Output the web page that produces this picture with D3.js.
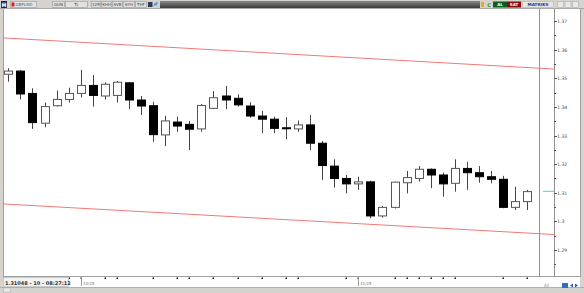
<!DOCTYPE html>
<html><head><meta charset="utf-8">
<script src="https://cdn.jsdelivr.net/npm/d3@7"></script>
<style>html,body{margin:0;padding:0;background:#fff;}svg{display:block;font-family:"DejaVu Sans",sans-serif;}</style>
</head><body><svg id="c" width="584" height="293"></svg>
<script>
// ---- data ----
const opens  = [1.3514,1.3525,1.3447,1.3343,1.3404,1.3426,1.3447,1.3475,1.3438,1.3440,1.3484,1.3424,1.3404,1.3302,1.3347,1.3339,1.3323,1.3395,1.3438,1.3430,1.3403,1.3368,1.3357,1.3327,1.3323,1.3337,1.3273,1.3193,1.3150,1.3131,1.3138,1.3019,1.3049,1.3135,1.3150,1.3182,1.3162,1.3133,1.3185,1.3170,1.3156,1.3147,1.3049,1.3069];
const highs  = [1.3535,1.3528,1.3465,1.3415,1.3457,1.3467,1.3529,1.3511,1.3486,1.3491,1.3487,1.3438,1.3418,1.3369,1.3366,1.3351,1.3410,1.3455,1.3473,1.3444,1.3416,1.3386,1.3366,1.3364,1.3352,1.3372,1.3281,1.3217,1.3162,1.3156,1.3142,1.3054,1.3139,1.3176,1.3193,1.3185,1.3170,1.3217,1.3208,1.3193,1.3176,1.3159,1.3121,1.3110];
const lows   = [1.3488,1.3426,1.3323,1.3329,1.3401,1.3415,1.3433,1.3401,1.3426,1.3415,1.3392,1.3372,1.3278,1.3263,1.3313,1.3249,1.3313,1.3392,1.3392,1.3401,1.3362,1.3308,1.3308,1.3287,1.3313,1.3249,1.3145,1.3118,1.3098,1.3110,1.3011,1.3013,1.3045,1.3098,1.3139,1.3116,1.3086,1.3104,1.3110,1.3135,1.3133,1.3046,1.3040,1.3040];
const closes = [1.3525,1.3445,1.3345,1.3401,1.3426,1.3447,1.3475,1.3440,1.3479,1.3486,1.3424,1.3403,1.3303,1.3351,1.3333,1.3322,1.3405,1.3432,1.3424,1.3407,1.3368,1.3357,1.3325,1.3324,1.3337,1.3273,1.3195,1.3150,1.3131,1.3138,1.3019,1.3049,1.3137,1.3153,1.3182,1.3162,1.3131,1.3185,1.3170,1.3156,1.3147,1.3049,1.3069,1.3104];
const channelUpper = [[-0.45,1.3641],[45.25,1.3532]];
const channelLower = [[-0.45,1.3061],[45.25,1.2954]];
const lastPrice = 1.31048;
const priceTicks = [1.37,1.36,1.35,1.34,1.33,1.32,1.31,1.30,1.29];
const minorTicks = [1.365,1.355,1.345,1.335,1.325,1.315,1.305,1.295,1.285];
const timeTickIdx = [5,6,8,9,12,14,15,17,19,21,23,24,28,29,32,33,34,35,36,37,41,43];
const timeLabels = [{i:6,t:"10/25"},{i:29,t:"11/25"}];
const statusText = "1.31048 - 10 - 08:27:12";
const symbol = "GBPUSD";
const toolButtons = [{t:"GUN",x0:52,x1:65},{t:"TL",x0:65,x1:88},{t:"12R",x0:91,x1:101},{t:"KHH",x0:101,x1:112},{t:"SVB",x0:112,x1:123},{t:"SYH",x0:123,x1:135},{t:"THF",x0:135,x1:147}];

// ---- layout ----
const svg = d3.select("#c");
const W=584,H=293;
const plot={l:3,t:9,r:580,b:277};
const x = d3.scaleLinear().domain([0,43]).range([8.3,527.3]);
const y = d3.scaleLinear().domain([1.29,1.37]).range([250,21]);
const axisX = 554;

svg.append("rect").attr("width",W).attr("height",H).attr("fill","#d6d3ce");
svg.append("rect").attr("x",plot.l).attr("y",plot.t).attr("width",plot.r-plot.l).attr("height",plot.b-plot.t).attr("fill","#fff");
svg.append("line").attr("x1",plot.l+0.5).attr("x2",plot.l+0.5).attr("y1",plot.t).attr("y2",plot.b).attr("stroke","#a0a0a0");

// toolbar
const tb = svg.append("g");
tb.append("rect").attr("x",0).attr("y",0).attr("width",W).attr("height",9).attr("fill","#d6d3ce");
tb.append("line").attr("x1",0).attr("x2",W).attr("y1",8.5).attr("y2",8.5).attr("stroke","#a8a8a8");
tb.append("rect").attr("x",1.5).attr("y",1.5).attr("width",5).attr("height",6).attr("fill","#3a4fa8").attr("stroke","#223");
tb.append("text").attr("x",4).attr("y",6.6).attr("text-anchor","middle").attr("font-size",5).attr("fill","#fff").attr("font-weight","bold").text("M");
tb.append("rect").attr("x",10.5).attr("y",1.5).attr("width",26).attr("height",6).attr("fill","#e4e4e4").attr("stroke","#999").attr("stroke-width",0.6);
tb.append("rect").attr("x",11.5).attr("y",2.5).attr("width",3).attr("height",4).attr("fill","#d02020");
tb.append("text").attr("x",15.5).attr("y",6.4).attr("font-size",4).attr("fill","#556").text(symbol);
toolButtons.forEach(b=>{
  tb.append("rect").attr("x",b.x0+0.5).attr("y",1.5).attr("width",b.x1-b.x0-1).attr("height",6).attr("fill","#e2e2e2").attr("stroke","#999").attr("stroke-width",0.6);
  tb.append("text").attr("x",(b.x0+b.x1)/2).attr("y",6.4).attr("text-anchor","middle").attr("font-size",4).attr("fill","#333").text(b.t);
});
tb.append("rect").attr("x",148).attr("y",2).attr("width",4.5).attr("height",5).attr("fill","#333a55");
tb.append("path").attr("d","M153,6 L155,3 L158,2 L157,5 Z").attr("fill","#3aa0e0");
const grad = svg.append("defs").append("linearGradient").attr("id","tg").attr("x1",0).attr("x2",0).attr("y1",0).attr("y2",1);
grad.append("stop").attr("offset","0").attr("stop-color","#8a8a8a");
grad.append("stop").attr("offset","1").attr("stop-color","#3a3a3a");
tb.append("rect").attr("x",160).attr("y",1).attr("width",320).attr("height",7).attr("fill","url(#tg)");
tb.append("rect").attr("x",481).attr("y",2).attr("width",3).attr("height",5).attr("fill","#e0b020");
tb.append("text").attr("x",489).attr("y",6.6).attr("text-anchor","middle").attr("font-size",5).attr("fill","#1a9a3a").attr("font-weight","bold").text("C");
tb.append("rect").attr("x",493).attr("y",1.5).attr("width",14).attr("height",6).attr("fill","#0c5e1c");
tb.append("text").attr("x",500).attr("y",6.4).attr("text-anchor","middle").attr("font-size",4).attr("fill","#fff").attr("font-weight","bold").text("AL");
tb.append("rect").attr("x",507).attr("y",1.5).attr("width",14).attr("height",6).attr("fill","#8a0a0a");
tb.append("text").attr("x",514).attr("y",6.4).attr("text-anchor","middle").attr("font-size",4).attr("fill","#fff").attr("font-weight","bold").text("SAT");
tb.append("rect").attr("x",522.5).attr("y",1.5).attr("width",31).attr("height",6).attr("fill","#e6e6e6").attr("stroke","#aaa").attr("stroke-width",0.5);
tb.append("text").attr("x",538).attr("y",6.4).attr("text-anchor","middle").attr("font-size",4.2).attr("fill","#22308a").attr("font-weight","bold").text("MATRIKS");
[557,564.5,572].forEach(bx=>tb.append("rect").attr("x",bx+0.5).attr("y",1.5).attr("width",6).attr("height",6).attr("fill","#e8e8e8").attr("stroke","#b0b0b0").attr("stroke-width",0.6));

// right panel lines
svg.append("line").attr("x1",539.5).attr("x2",539.5).attr("y1",plot.t).attr("y2",plot.b).attr("stroke","#909090");
svg.append("line").attr("x1",axisX+0.5).attr("x2",axisX+0.5).attr("y1",plot.t).attr("y2",plot.b).attr("stroke","#909090");
svg.append("line").attr("x1",plot.r+0.5).attr("x2",plot.r+0.5).attr("y1",plot.t).attr("y2",plot.b).attr("stroke","#a0a0a0");

// price axis
const ax = svg.append("g");
priceTicks.forEach(v=>{
  ax.append("line").attr("x1",axisX).attr("x2",axisX+3).attr("y1",Math.round(y(v))+0.5).attr("y2",Math.round(y(v))+0.5).attr("stroke","#555");
  ax.append("text").attr("x",axisX+3).attr("y",y(v)+2).attr("font-size",4.6).attr("fill","#444").text(String(+v.toFixed(2)));
});
minorTicks.filter(v=>y(v)>plot.t&&y(v)<plot.b).forEach(v=>{
  ax.append("line").attr("x1",axisX).attr("x2",axisX+2).attr("y1",Math.round(y(v))+0.5).attr("y2",Math.round(y(v))+0.5).attr("stroke","#555");
});
// last price marker
svg.append("line").attr("x1",543).attr("x2",axisX).attr("y1",y(lastPrice)).attr("y2",y(lastPrice)).attr("stroke","#5ee0e0").attr("stroke-width",1.2);

// channel lines
const line = d3.line().x(d=>x(d[0])).y(d=>y(d[1]));
[channelUpper,channelLower].forEach(c=>svg.append("path").attr("d",line(c)).attr("stroke","#f27878").attr("stroke-width",1).attr("fill","none"));

// candles
const data = opens.map((o,i)=>({i,o,h:highs[i],l:lows[i],c:closes[i]}));
const bw = 8;
const g = svg.append("g");
data.forEach(d=>{
  const cx = Math.round(x(d.i))+0.5;
  const up = d.c>=d.o;
  const top = y(Math.max(d.o,d.c)), bot = y(Math.min(d.o,d.c));
  g.append("line").attr("x1",cx).attr("x2",cx).attr("y1",y(d.h)).attr("y2",top).attr("stroke","#444");
  g.append("line").attr("x1",cx).attr("x2",cx).attr("y1",bot).attr("y2",y(d.l)).attr("stroke","#444");
  g.append("rect").attr("x",cx-bw/2).attr("y",top).attr("width",bw).attr("height",Math.max(1,bot-top))
    .attr("fill",up?"#fff":"#000").attr("stroke",up?"#555":"#000").attr("stroke-width",1);
});

// bottom time axis band
svg.append("rect").attr("x",plot.l).attr("y",277).attr("width",plot.r-plot.l).attr("height",10).attr("fill","#fff");
svg.append("line").attr("x1",plot.l).attr("x2",plot.r).attr("y1",276.5).attr("y2",276.5).attr("stroke","#a0a0a0");
svg.append("line").attr("x1",0).attr("x2",W).attr("y1",287.5).attr("y2",287.5).attr("stroke","#b0b0b0");
timeTickIdx.forEach(i=>{
  svg.append("rect").attr("x",Math.round(x(i))-0.5).attr("y",277.5).attr("width",1.5).attr("height",1.5).attr("fill","#111");
});
timeLabels.forEach(d=>{
  const lx = Math.round(x(d.i))+0.5;
  svg.append("line").attr("x1",lx).attr("x2",lx).attr("y1",278).attr("y2",286).attr("stroke","#999");
  svg.append("text").attr("x",lx+1.5).attr("y",284.5).attr("font-size",4).attr("fill","#777").text(d.t);
});
svg.append("rect").attr("x",3.5).attr("y",277.5).attr("width",65).attr("height",9).attr("fill","#f2f2f2").attr("stroke","#aaa").attr("stroke-width",0.6);
svg.append("text").attr("x",5).attr("y",284.6).attr("font-size",5).attr("font-weight","bold").attr("fill","#333").text(statusText);
svg.append("rect").attr("x",3.5).attr("y",288).attr("width",7).attr("height",4).attr("fill","#e8e8e8").attr("stroke","#aaa").attr("stroke-width",0.5);
svg.append("text").attr("x",544).attr("y",287).attr("font-size",4).attr("fill","#888").text("Alt");
svg.append("rect").attr("x",562).attr("y",283).attr("width",6).attr("height",5).attr("fill","#2e6fc0");
svg.append("path").attr("d","M570,285.5 L573,283.5 L573,287.5 Z M575,283.5 L578,285.5 L575,287.5 Z").attr("fill","#2e5fb0");
</script></body></html>
